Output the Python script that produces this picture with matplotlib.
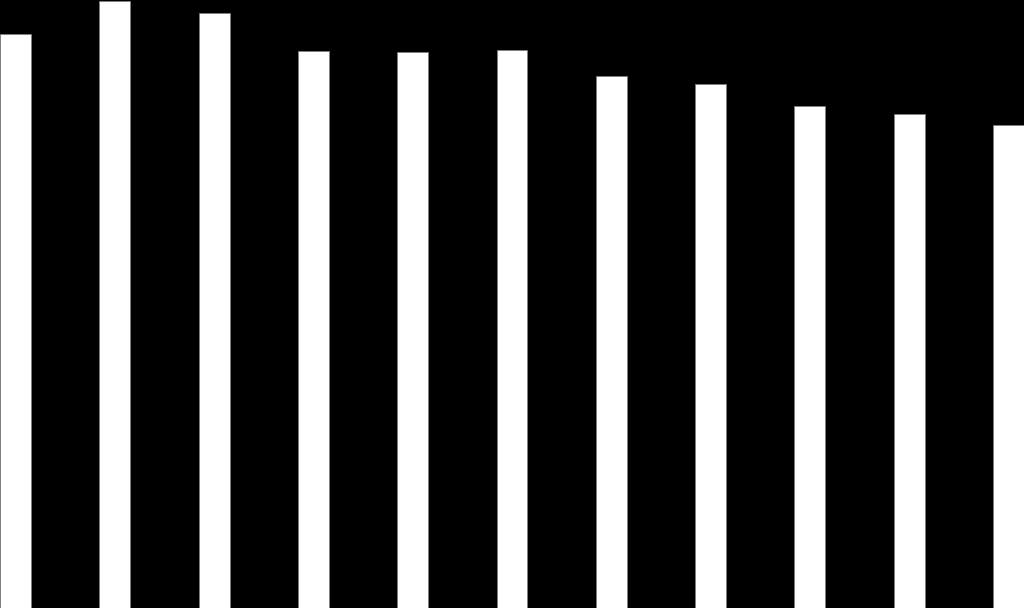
import numpy as np
import matplotlib
matplotlib.use("Agg")
import matplotlib.pyplot as plt

# bar heights (pixel units from the bottom)
categories = list(range(11))
values = [574, 607, 595, 557, 556, 558, 532, 524, 502, 494, 483]

bar_width = 0.312

fig = plt.figure(figsize=(10.24, 6.08), dpi=100, facecolor="black")
ax = fig.add_axes([0, 0, 1, 1])
ax.set_facecolor("black")

ax.bar(categories, values, width=bar_width, color="white",
       edgecolor="#808080", linewidth=0.6)

ax.set_xlim(-bar_width / 2, categories[-1] + bar_width / 2)
ax.set_ylim(0, 608)
ax.axis("off")

plt.savefig("out.png", dpi=100, facecolor="black")
